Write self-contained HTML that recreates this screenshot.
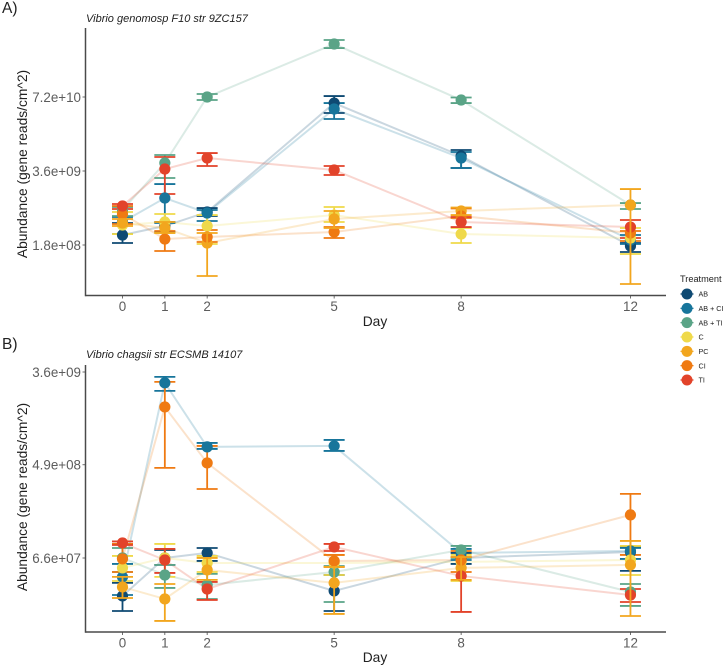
<!DOCTYPE html>
<html lang="en">
<head>
<meta charset="utf-8">
<title>Abundance by day</title>
<style>
html,body{margin:0;padding:0;background:#fff;width:725px;height:667px;overflow:hidden}
svg{display:block;font-family:"Liberation Sans",sans-serif}
</style>
</head>
<body>
<svg id="chart" xmlns="http://www.w3.org/2000/svg" width="725" height="667" viewBox="0 0 725 667">
<rect width="725" height="667" fill="#fff"/>
<text x="2" y="13" font-size="15.5" fill="#222">A)</text>
<text x="2" y="349" font-size="15.5" fill="#222">B)</text>
<text x="86" y="22" font-size="11" font-style="italic" fill="#222">Vibrio genomosp F10 str 9ZC157</text>
<text x="86" y="358" font-size="11" font-style="italic" fill="#222">Vibrio chagsii str ECSMB 14107</text>
<text transform="translate(27,164) rotate(-90)" text-anchor="middle" font-size="13.8" fill="#222">Abundance (gene reads/cm^2)</text>
<text transform="translate(27,497) rotate(-90)" text-anchor="middle" font-size="13.8" fill="#222">Abundance (gene reads/cm^2)</text>
<text x="375" y="326" text-anchor="middle" font-size="13.8" fill="#222">Day</text>
<text x="375" y="662" text-anchor="middle" font-size="13.8" fill="#222">Day</text>
<text x="680" y="282" font-size="9.2" fill="#222">Treatment</text>
<g id="panelA"></g>
<g id="panelB"></g>
<g id="legend"></g>
</svg>
<script>
// Shared categories
const days = [0, 1, 2, 5, 8, 12];
const treatments = ["AB", "AB + CI", "AB + TI", "C", "PC", "CI", "TI"];

// Tick labels and their values
const tickLabelsA = ["1.8e+08", "3.6e+09", "7.2e+10"];
const tickLabelsB = ["6.6e+07", "4.9e+08", "3.6e+09"];
const tickValuesA = [1.8e8, 3.6e9, 7.2e10];
const tickValuesB = [6.6e7, 4.9e8, 3.6e9];

// Panel A: log10 abundance, per day
const aMeanAB = [8.431, 8.589, 8.835, 10.751, 9.820, 8.237];
const aHighAB = [8.642, 8.659, 8.905, 10.874, 9.925, 8.290];
const aLowAB = [8.290, 8.484, 8.765, 10.576, 9.609, 8.132];
const aMeanABCI = [8.659, 9.081, 8.818, 10.646, 9.784, 8.343];
const aHighABCI = [8.747, 9.327, 8.870, 10.751, 9.890, 8.431];
const aLowABCI = [8.448, 8.642, 8.677, 10.470, 9.609, 8.273];
const aMeanABTI = [8.870, 9.697, 10.857, 11.789, 10.804, 8.958];
const aHighABTI = [8.923, 9.837, 10.910, 11.859, 10.848, 8.993];
const aLowABTI = [8.765, 9.433, 10.804, 11.718, 10.751, 8.888];
const aMeanC = [8.607, 8.659, 8.589, 8.782, 8.448, 8.378];
const aHighC = [8.835, 8.800, 8.782, 8.923, 8.554, 8.554];
const aLowC = [8.448, 8.466, 8.273, 8.659, 8.290, 8.097];
const aMeanPC = [8.642, 8.554, 8.290, 8.712, 8.853, 8.958];
const aHighPC = [8.712, 8.659, 8.466, 8.853, 8.914, 9.239];
const aLowPC = [8.589, 8.466, 7.710, 8.554, 8.782, 7.569];
const aMeanCI = [8.800, 8.360, 8.396, 8.484, 8.765, 8.466];
const aHighCI = [8.941, 8.501, 8.519, 8.571, 8.897, 8.501];
const aLowCI = [8.624, 8.150, 8.308, 8.378, 8.730, 8.325];
const aMeanTI = [8.941, 9.591, 9.784, 9.574, 8.659, 8.571];
const aHighTI = [8.976, 9.802, 9.872, 9.644, 8.747, 8.695];
const aLowTI = [8.888, 9.152, 9.644, 9.486, 8.571, 8.378];

// Panel B: log10 abundance, per day
const bMeanAB = [7.465, 7.820, 7.867, 7.512, 7.820, 7.876];
const bHighAB = [7.587, 7.895, 7.913, 7.661, 7.867, 7.923];
const bLowAB = [7.325, 7.755, 7.792, 7.325, 7.764, 7.699];
const bMeanABCI = [7.643, 9.455, 8.857, 8.866, 7.867, 7.885];
const bHighABCI = [7.764, 9.511, 8.894, 8.922, 7.904, 7.913];
const bLowABCI = [7.474, 9.380, 8.838, 8.819, 7.801, 7.811];
const bMeanABTI = [7.820, 7.661, 7.568, 7.689, 7.895, 7.502];
const bHighABTI = [7.913, 7.755, 7.671, 7.745, 7.932, 7.577];
const bLowABTI = [7.689, 7.540, 7.437, 7.409, 7.820, 7.372];
const bMeanC = [7.727, 7.820, 7.773, 7.773, 7.783, 7.801];
const bHighC = [7.839, 7.951, 7.839, 7.848, 7.848, 7.932];
const bLowC = [7.605, 7.643, 7.689, 7.661, 7.605, 7.661];
const bMeanPC = [7.549, 7.437, 7.708, 7.587, 7.727, 7.755];
const bHighPC = [7.643, 7.577, 7.820, 7.736, 7.829, 7.979];
const bLowPC = [7.446, 7.232, 7.615, 7.297, 7.615, 7.278];
const bMeanCI = [7.811, 9.230, 8.707, 7.792, 7.801, 8.222];
const bHighCI = [7.951, 9.464, 8.866, 7.848, 7.885, 8.418];
const bLowCI = [7.689, 8.661, 8.464, 7.736, 7.689, 7.848];
const bMeanTI = [7.960, 7.801, 7.530, 7.923, 7.652, 7.474];
const bHighTI = [7.974, 7.904, 7.596, 7.951, 7.829, 7.530];
const bLowTI = [7.941, 7.680, 7.428, 7.885, 7.316, 7.409];

const colors = ["#0e4a73", "#17759b", "#5aa487", "#efd94a", "#f2a61e", "#ef7a12", "#e2432a"];

const aMeans = [aMeanAB, aMeanABCI, aMeanABTI, aMeanC, aMeanPC, aMeanCI, aMeanTI];
const aHighs = [aHighAB, aHighABCI, aHighABTI, aHighC, aHighPC, aHighCI, aHighTI];
const aLows = [aLowAB, aLowABCI, aLowABTI, aLowC, aLowPC, aLowCI, aLowTI];
const bMeans = [bMeanAB, bMeanABCI, bMeanABTI, bMeanC, bMeanPC, bMeanCI, bMeanTI];
const bHighs = [bHighAB, bHighABCI, bHighABTI, bHighC, bHighPC, bHighCI, bHighTI];
const bLows = [bLowAB, bLowABCI, bLowABTI, bLowC, bLowPC, bLowCI, bLowTI];

const NS = "http://www.w3.org/2000/svg";
const AXIS_COLOR = "#4a4a4a";
const TICK_TEXT = "#5c5c5c";

function make(parent, tag, props, text) {
  const node = document.createElementNS(NS, tag);
  for (const key in props) node.setAttribute(key, props[key]);
  if (text !== undefined) node.textContent = text;
  parent.appendChild(node);
  return node;
}

// Day axis shared by both panels
function xScale(day) {
  return 122.5 + 42.33 * day;
}

function makeYScale(tickValues, bottomPx, topPx) {
  const lo = Math.log10(tickValues[0]);
  const hi = Math.log10(tickValues[tickValues.length - 1]);
  return function (logValue) {
    return bottomPx + (logValue - lo) / (hi - lo) * (topPx - bottomPx);
  };
}

function drawBars(root, prefix, yScale, means, highs, lows, s) {
  const name = treatments[s];
  means[s].forEach(function (v, d) {
    const px = xScale(days[d]);
    const top = yScale(highs[s][d]);
    const bottom = yScale(lows[s][d]);
    const barPath = "M" + (px - 10.5) + " " + top + "H" + (px + 10.5) + "M" + px + " " + top + "V" + bottom + "M" + (px - 10.5) + " " + bottom + "H" + (px + 10.5);
    const bar = make(root, "path", {d: barPath, fill: "none", stroke: colors[s], "stroke-width": 1.8});
    
    
  });
}

function drawPanel(root, prefix, yScale, tickValues, tickLabels, means, highs, lows, axisTop, axisBottom, xLabelY) {
  const yLine = make(root, "line", {x1: 85.5, x2: 85.5, y1: axisTop, y2: axisBottom + 0.75, stroke: AXIS_COLOR, "stroke-width": 1.5});
  
  
  const xLine = make(root, "line", {x1: 85.5, x2: 666, y1: axisBottom, y2: axisBottom, stroke: AXIS_COLOR, "stroke-width": 1.5});
  
  

  tickValues.forEach(function (value, i) {
    const py = yScale(Math.log10(value));
    const tick = make(root, "line", {x1: 82.5, x2: 85.5, y1: py, y2: py, stroke: AXIS_COLOR, "stroke-width": 0.8});
    
    
    const label = make(root, "text", {x: 81, y: py + 4.8, "text-anchor": "end", "font-size": 13.4, fill: TICK_TEXT}, tickLabels[i]);
    
    
  });

  days.forEach(function (day) {
    const px = xScale(day);
    const tick = make(root, "line", {x1: px, x2: px, y1: axisBottom, y2: axisBottom + 3, stroke: AXIS_COLOR, "stroke-width": 0.8});
    
    
    const label = make(root, "text", {x: px, y: xLabelY, "text-anchor": "middle", "font-size": 13.4, fill: TICK_TEXT}, String(day));
    
    
  });

  treatments.forEach(function (name, s) {
    const points = means[s].map(function (v, d) { return xScale(days[d]) + "," + yScale(v); }).join(" ");
    const line = make(root, "polyline", {points: points, fill: "none", stroke: colors[s], "stroke-width": 2, "stroke-opacity": 0.22});
    
    
  });

  [0, 1, 2, 3, 5, 6].forEach(function (s) {
    drawBars(root, prefix, yScale, means, highs, lows, s);
  });

  treatments.forEach(function (name, s) {
    means[s].forEach(function (v, d) {
      const dot = make(root, "circle", {cx: xScale(days[d]), cy: yScale(v), r: 5.6, fill: colors[s]});
      
      
    });
  });

  drawBars(root, prefix, yScale, means, highs, lows, 4);
}

drawPanel(document.getElementById("panelA"), "panel-a", makeYScale(tickValuesA, 245, 97), tickValuesA, tickLabelsA, aMeans, aHighs, aLows, 28, 295.5, 311);
drawPanel(document.getElementById("panelB"), "panel-b", makeYScale(tickValuesB, 558, 372), tickValuesB, tickLabelsB, bMeans, bHighs, bLows, 365, 632, 647.5);

const legendRoot = document.getElementById("legend");
treatments.forEach(function (name, s) {
  const rowY = 294 + s * 14.33;
  const stem = make(legendRoot, "line", {x1: 680.5, x2: 693.5, y1: rowY, y2: rowY, stroke: colors[s], "stroke-width": 1.2});
  
  
  const key = make(legendRoot, "circle", {cx: 687, cy: rowY, r: 5.5, fill: colors[s]});
  
  
  const label = make(legendRoot, "text", {x: 698.5, y: rowY + 2.6, "font-size": 7.2, fill: "#222"}, name);
  
  
});
</script>
</body>
</html>
